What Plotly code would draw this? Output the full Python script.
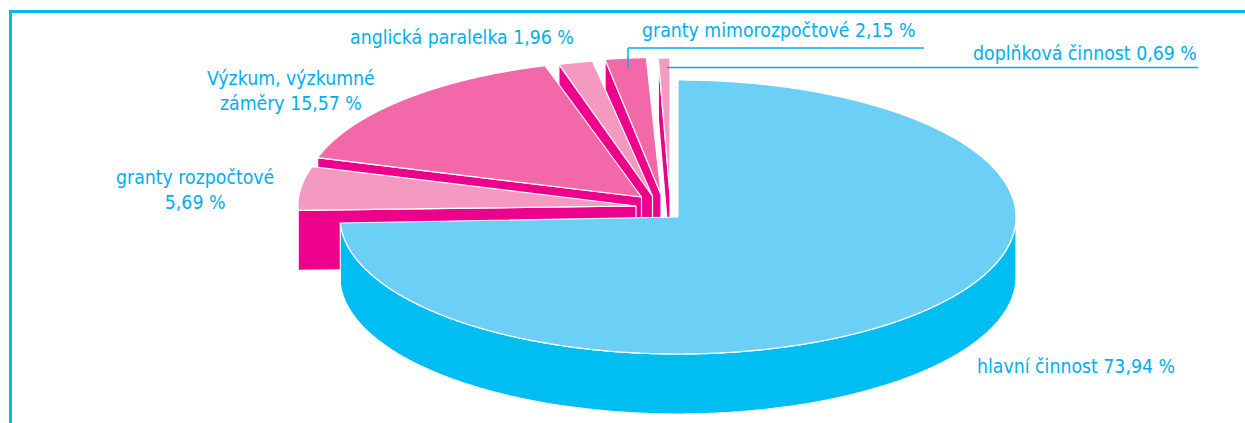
import numpy as np
import plotly.graph_objects as go

# --- data ---
categories = ["hlavní činnost", "granty rozpočtové", "Výzkum, výzkumné záměry",
              "anglická paralelka", "granty mimorozpočtové", "doplňková činnost"]
values = [73.94, 5.69, 15.57, 1.96, 2.15, 0.69]
label_texts = ["hlavní činnost 73,94 %", "granty rozpočtové<br>5,69 %",
               "Výzkum, výzkumné<br>záměry 15,57 %", "anglická paralelka 1,96 %",
               "granty mimorozpočtové 2,15 %", "doplňková činnost 0,69 %"]

# --- styles / layout ---
W, H = 1245, 423
RX, RY, DEPTH = 338, 137, 60
centres = [(678, 217), (636, 206), (641.5, 197), (652.5, 196), (661, 194.5), (670, 195)]
start_nudge = [0, 2.0, 0, 1.2, 0.7, 0.5]
end_nudge = [1.3, 0, 0.7, 0, 0, 0]
top_colors = ["#6BCFF6", "#F49AC1", "#F368A9", "#F49AC1", "#F368A9", "#F49AC1"]
wall_colors = ["#00BDF2", "#EC008C", "#EC008C", "#EC008C", "#EC008C", "#EC008C"]
TEXT = "#00AEEF"
label_pos = [(1076, 366), (194.5, 190), (290.5, 90.5), (461.5, 37), (779, 30), (1085, 53)]

cum = np.cumsum([0] + values) / sum(values) * 360


def rim(c, a, b, n=500):
    t = np.radians(np.linspace(a, b, n))
    return c[0] + RX * np.sin(t), c[1] - RY * np.cos(t)


def poly(fig, x, y, color):
    fig.add_trace(go.Scatter(x=list(x), y=list(y), mode="lines", fill="toself",
                             fillcolor=color, line=dict(color="white", width=1.2, simplify=False),
                             hoverinfo="skip", showlegend=False))


fig = go.Figure()

# back-to-front: small exploded slices first, the main slice last
for i in [5, 4, 3, 2, 1, 0]:
    c = centres[i]
    a = cum[i] + start_nudge[i]
    b = cum[i + 1] + end_nudge[i]
    if i == 0:
        x, y = rim(c, 90, b)
        poly(fig, np.r_[x, x[::-1], x[0]], np.r_[y, y[::-1] + DEPTH, y[0]], wall_colors[i])
    else:
        ex, ey = rim(c, a, a, 1)
        poly(fig, [c[0], ex[0], ex[0], c[0], c[0]],
             [c[1], ey[0], ey[0] + DEPTH, c[1] + DEPTH, c[1]], wall_colors[i])
    x, y = rim(c, a, b)
    poly(fig, np.r_[c[0], x, c[0]], np.r_[c[1], y, c[1]], top_colors[i])

for (px, py), txt in zip(label_pos, label_texts):
    fig.add_annotation(x=px, y=py, text=txt, showarrow=False, xanchor="center", yanchor="middle",
                       align="center", font=dict(family="DejaVu Sans Condensed, DejaVu Sans", size=19.3, color=TEXT))

frame = dict(color="#00B9F2", width=3)
leader = dict(color=TEXT, width=1.5)
fig.update_layout(
    width=W, height=H, margin=dict(l=0, r=0, t=0, b=0),
    paper_bgcolor="white", plot_bgcolor="white", showlegend=False,
    xaxis=dict(range=[0, W], visible=False, fixedrange=True),
    yaxis=dict(range=[H, 0], visible=False, fixedrange=True),
    shapes=[
        dict(type="line", x0=10.5, x1=10.5, y0=10, y1=H, line=frame),
        dict(type="line", x0=9, x1=W, y0=11.5, y1=11.5, line=frame),
        dict(type="line", x0=628, x1=628, y0=48, y1=68, line=leader),
        dict(type="line", x0=628, x1=924, y0=48, y1=48, line=leader),
        dict(type="line", x0=667, x1=1198, y0=67.5, y1=67.5, line=leader),
    ],
)

fig.write_html("out.html", config=dict(displayModeBar=False),
               post_script="document.body.style.margin='0';document.body.style.overflow='hidden';")
